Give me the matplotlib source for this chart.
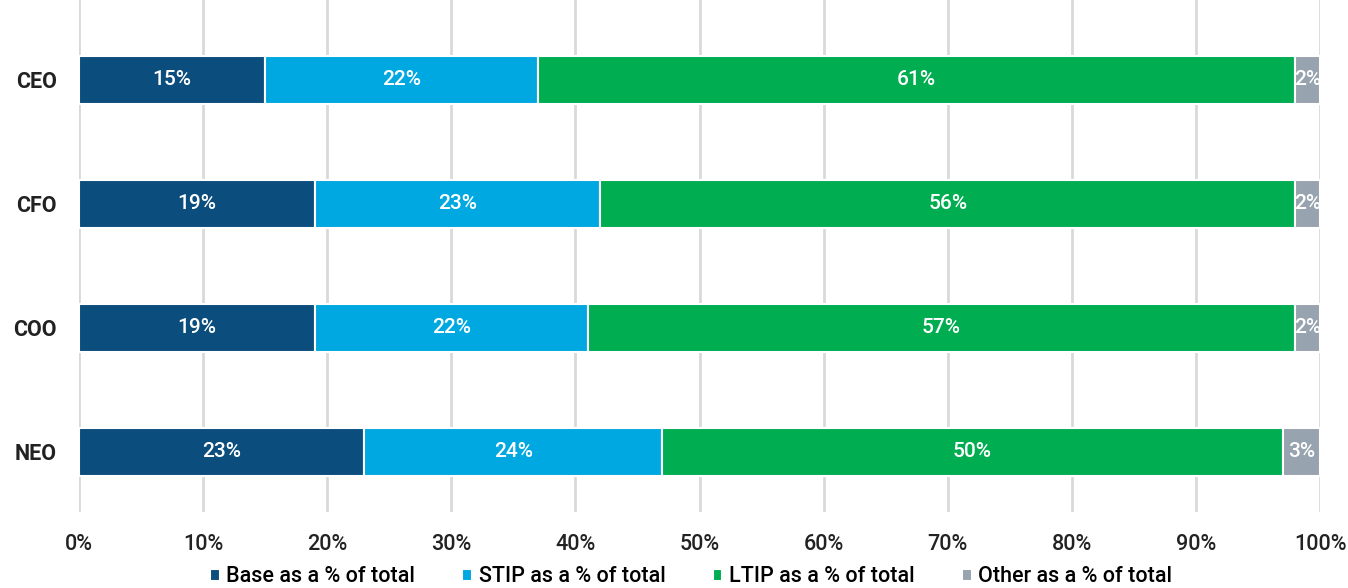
import numpy as np
import matplotlib.pyplot as plt

plt.rcParams['font.family'] = ['Roboto', 'DejaVu Sans']

roles = ['CEO', 'CFO', 'COO', 'NEO']
base = [15, 19, 19, 23]
stip = [22, 23, 22, 24]
ltip = [61, 56, 57, 50]
other = [2, 2, 2, 3]
series_names = ['Base as a % of total', 'STIP as a % of total',
                'LTIP as a % of total', 'Other as a % of total']
colors = ['#0B4D7C', '#00A8E1', '#00AD50', '#97A3AE']

fig = plt.figure(figsize=(13.48, 5.88), dpi=100)
ax = fig.add_axes([79 / 1348, 1 - 512 / 588, (1320 - 79) / 1348, 512 / 588])

y = np.arange(len(roles))
left = np.zeros(len(roles))
for vals, name, col in zip([base, stip, ltip, other], series_names, colors):
    vals = np.array(vals, dtype=float)
    ax.barh(y, vals, left=left, height=0.38, color=col,
            edgecolor='white', linewidth=1.5, label=name, zorder=3)
    for yi, l, v in zip(y, left, vals):
        ax.text(l + v / 2, yi, f'{int(v)}%', ha='center', va='center',
                color='white', fontsize=15, fontweight='medium', zorder=4)
    left += vals

ax.set_xlim(0, 100)
ax.set_ylim(3.484, -0.645)
ax.set_xticks(np.arange(0, 101, 10))
ax.set_xticklabels([f'{t}%' for t in range(0, 101, 10)], fontsize=15.5,
                   fontweight='medium', color='#222222')
ax.set_yticks(y)
ax.set_yticklabels(roles, fontsize=15.5, fontweight='semibold', color='#222222')
ax.tick_params(length=0)
ax.tick_params(axis='x', pad=16)
ax.tick_params(axis='y', pad=16)
ax.grid(axis='x', color='#D9D9D9', linewidth=2, zorder=0)
for s in ax.spines.values():
    s.set_visible(False)

fig.legend(loc='center', bbox_to_anchor=(691 / 1348, 1 - 577 / 588), ncol=4,
           frameon=False, handlelength=0.45, handleheight=0.45,
           handletextpad=0.3, columnspacing=2.2,
           prop={'size': 15.5, 'weight': 'medium'})

fig.savefig('out.png', dpi=100)
